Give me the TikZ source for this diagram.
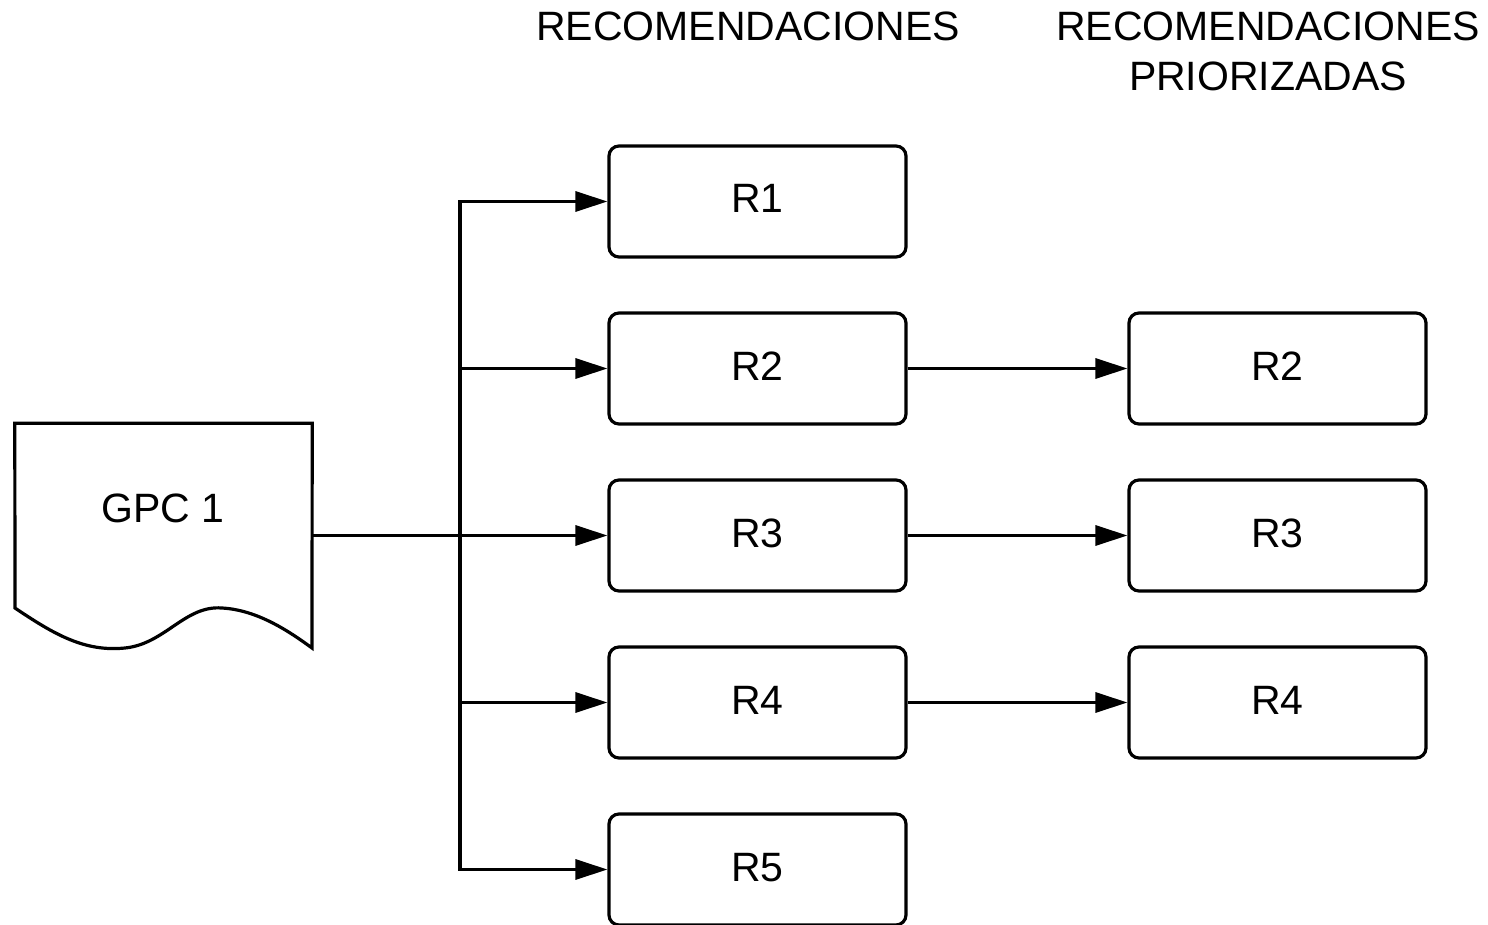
\documentclass[tikz,border=0pt]{standalone}
\usepackage{fontspec}
\setmainfont{Liberation Sans}
\usetikzlibrary{arrows.meta}
\begin{document}
\begin{tikzpicture}[x=1pt,y=-1pt,
  every node/.style={font=\fontsize{41}{47}\selectfont},
  rbox/.style={draw,line width=3.2pt,rounded corners=10pt,minimum width=297pt,minimum height=111pt,inner sep=0pt,text depth=0pt,text height=23pt},
  conn/.style={line width=3.2pt,line join=miter},
  arr/.style={line width=3.2pt,line join=miter,-{Triangle[length=32pt,width=20pt]}},
  head/.style={align=center,inner sep=0pt}]
\useasboundingbox (0,0) rectangle (1488,925);
% headers
\node[head] (h1) at (748,26) {RECOMENDACIONES};
\node[head,font=\fontsize{41}{50}\selectfont] (h2) at (1268,51) {RECOMENDACIONES\\PRIORIZADAS};
% column 1
\node[rbox] (r1) at (757.5,201.5) {R1};
\node[rbox] (r2) at (757.5,368.5) {R2};
\node[rbox] (r3) at (757.5,535.5) {R3};
\node[rbox] (r4) at (757.5,702.5) {R4};
\node[rbox] (r5) at (757.5,869.5) {R5};
% column 2
\node[rbox] (p2) at (1277.5,368.5) {R2};
\node[rbox] (p3) at (1277.5,535.5) {R3};
\node[rbox] (p4) at (1277.5,702.5) {R4};
% document shape
\node[minimum width=297pt,minimum height=224pt,inner sep=0pt] (gpc) at (163.5,535.5) {};
\draw[line width=3.2pt,line join=miter]
  (gpc.north west) -- (15,608)
  .. controls (55,635) and (85,652) .. (125,648)
  .. controls (165,644) and (185,605) .. (222,608)
  .. controls (258,610) and (290,632) .. (312,648)
  -- (gpc.north east) -- cycle;
\node (gpct) at (163,508) {GPC 1};
% trunk
\coordinate (t1) at (460,201.5);
\coordinate (t5) at (460,869.5);
\draw[conn] (gpc.east) -- (r3.west -| t1);
\draw[arr] (t5) -- (t1) -- (r1.west);
\draw[arr] (t1) -- (t5) -- (r5.west);
\draw[arr] (r2.west -| t1) -- (r2.west);
\draw[arr] (r3.west -| t1) -- (r3.west);
\draw[arr] (r4.west -| t1) -- (r4.west);
% priorized
\draw[arr] (r2.east) -- (p2.west);
\draw[arr] (r3.east) -- (p3.west);
\draw[arr] (r4.east) -- (p4.west);
\end{tikzpicture}
\end{document}
